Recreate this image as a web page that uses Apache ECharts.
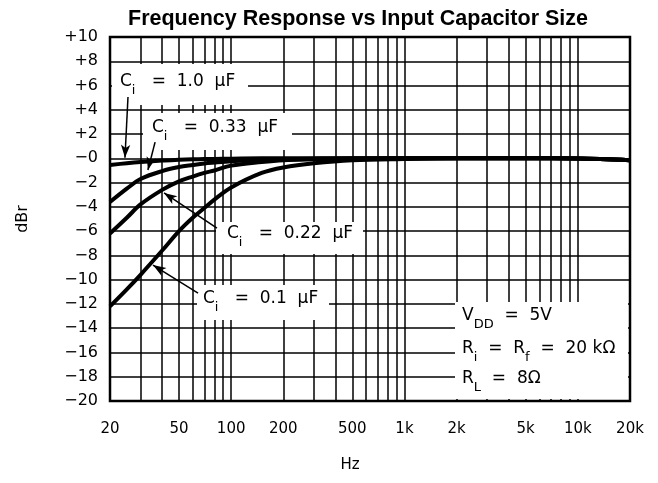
<!DOCTYPE html>
<html>
<head>
<meta charset="utf-8">
<script src="https://cdn.jsdelivr.net/npm/echarts@6/dist/echarts.min.js"></script>
<style>
  html, body { margin: 0; padding: 0; background: #fff; }
  #chart { width: 658px; height: 483px; }
</style>
</head>
<body>
<div id="chart"></div>
<script>
// Frequency points (Hz) shared by all response curves
const freqs = [20, 25, 30, 40, 50, 60, 70, 80, 100, 150, 200, 300, 500, 1000, 2000, 5000, 10000, 20000];

// Relative response (dBr) for each input capacitor value
const respC100n = [-12.2, -10.8, -9.6, -7.6, -6.0, -4.9, -4.1, -3.4, -2.4, -1.2, -0.75, -0.4, -0.15, -0.05, 0, 0, -0.02, -0.15];
const respC220n = [-6.2, -4.9, -3.8, -2.6, -1.9, -1.5, -1.2, -1.0, -0.6, -0.3, -0.15, -0.08, -0.03, 0, 0, 0, -0.02, -0.15];
const respC330n = [-3.6, -2.5, -1.7, -1.05, -0.72, -0.55, -0.42, -0.35, -0.25, -0.12, -0.07, -0.03, 0, 0, 0, 0, -0.02, -0.15];
const respC1u   = [-0.55, -0.4, -0.3, -0.18, -0.12, -0.08, -0.06, -0.05, -0.03, 0, 0, 0, 0, 0, 0, 0, -0.02, -0.15];

// Axis ticks
const xLabelValues = [20, 50, 100, 200, 500, 1000, 2000, 5000, 10000, 20000];
const xGridValues = [20, 30, 40, 50, 60, 70, 80, 90, 100, 200, 300, 400, 500, 600, 700, 800, 900,
                     1000, 2000, 3000, 4000, 5000, 6000, 7000, 8000, 9000, 10000, 20000];
const yMin = -20, yMax = 10, yStep = 2;

// Callout arrows: [tail, head] in (Hz, dBr)
const arrowC1u   = [[25.4, 5.05], [24.4, 0.05]];
const arrowC330n = [[36.4, 1.34], [33.1, -0.96]];
const arrowC220n = [[82.8, -5.76], [41.0, -2.85]];
const arrowC100n = [[64.4, -11.1], [35.4, -8.8]];

const FONT = 'DejaVu Sans';

function pairs(ys) { return freqs.map((f, i) => [f, ys[i]]); }

function fmtHz(v) {
  const r = Math.round(v);
  return r >= 1000 ? (r / 1000) + 'k' : String(r);
}
function fmtDb(v) {
  const r = Math.round(v);
  if (r > 0) return '+' + r;
  return '\u2212' + Math.abs(r);
}

function arrowLine(a) {
  return {
    silent: true,
    symbol: ['none', 'arrow'],
    symbolSize: [7, 13],
    label: { show: false },
    lineStyle: { color: '#000', width: 1.5, type: 'solid' },
    emphasis: { disabled: true },
    data: [[{ coord: a[0] }, { coord: a[1] }]]
  };
}

function curve(name, ys, arrow) {
  return {
    name: name,
    type: 'line',
    data: pairs(ys),
    smooth: 0.35,
    showSymbol: false,
    symbol: 'none',
    z: 4,
    lineStyle: { color: '#000', width: 4 },
    markLine: arrowLine(arrow),
    animation: false
  };
}

// Rich text styles for annotation labels (with subscripts)
const richSub = {
  m: { fontFamily: FONT, fontSize: 17, color: '#000', lineHeight: 31, verticalAlign: 'middle' },
  s: { fontFamily: FONT, fontSize: 13, color: '#000', lineHeight: 31, verticalAlign: 'bottom' }
};

function label(x, y, text) {
  return {
    type: 'text', x: x, y: y, z: 6, silent: true,
    style: { text: text, rich: richSub, verticalAlign: 'middle', align: 'left' }
  };
}
function mask(x, y, w, h) {
  return { type: 'rect', z: 1, silent: true, shape: { x: x, y: y, width: w, height: h }, style: { fill: '#fff' } };
}

const chart = echarts.init(document.getElementById('chart'), null, { renderer: 'canvas' });

chart.setOption({
  animation: false,
  backgroundColor: '#fff',
  title: {
    text: 'Frequency Response vs Input Capacitor Size',
    left: 353,
    textAlign: 'center',
    top: 3,
    textStyle: { fontFamily: 'Liberation Sans', fontWeight: 'bold', fontSize: 21.5, color: '#000' }
  },
  grid: {
    left: 110, right: 28, top: 37, bottom: 82,
    show: true, borderColor: '#000', borderWidth: 2.5, backgroundColor: '#fff'
  },
  xAxis: {
    type: 'log',
    logBase: 10,
    min: 20,
    max: 20000,
    name: 'Hz',
    nameLocation: 'middle',
    nameGap: 57,
    nameTextStyle: { fontFamily: FONT, fontSize: 15, color: '#000', padding: [0, 40, 0, 0] },
    axisLine: { show: false },
    axisTick: { show: false, customValues: xGridValues },
    axisLabel: {
      customValues: xLabelValues,
      formatter: fmtHz,
      margin: 21,
      fontFamily: FONT, fontSize: 15, color: '#000'
    },
    splitLine: { show: true, lineStyle: { color: '#000', width: 1.5 } },
    minorSplitLine: { show: false }
  },
  yAxis: {
    type: 'value',
    min: yMin,
    max: yMax,
    interval: yStep,
    name: 'dBr',
    nameLocation: 'middle',
    nameRotate: 90,
    nameGap: 79,
    nameTextStyle: { fontFamily: FONT, fontSize: 16, color: '#000' },
    axisLine: { show: false },
    axisTick: { show: false },
    axisLabel: { formatter: fmtDb, margin: 12, fontFamily: FONT, fontSize: 16, color: '#000' },
    splitLine: { show: true, lineStyle: { color: '#000', width: 1.5 } }
  },
  series: [
    curve('Ci = 0.1 µF', respC100n, arrowC100n),
    curve('Ci = 0.22 µF', respC220n, arrowC220n),
    curve('Ci = 0.33 µF', respC330n, arrowC330n),
    curve('Ci = 1.0 µF', respC1u, arrowC1u)
  ],
  graphic: {
    elements: [
      mask(112, 64, 136, 41),
      mask(143, 113, 149, 37),
      mask(216, 222, 147, 32),
      mask(197, 285, 132, 35),
      mask(455, 302, 173, 97),
      label(120, 82, '{m|C}{s|i}{m|   =  1.0  \u03bcF}'),
      label(152, 128, '{m|C}{s|i}{m|   =  0.33  \u03bcF}'),
      label(227, 234, '{m|C}{s|i}{m|   =  0.22  \u03bcF}'),
      label(203, 299, '{m|C}{s|i}{m|   =  0.1  \u03bcF}'),
      label(462, 316, '{m|V}{s|DD}{m|  =  5V}'),
      label(462, 349, '{m|R}{s|i}{m|  =  R}{s|f}{m|  =  20 k\u03a9}'),
      label(462, 379, '{m|R}{s|L}{m|  =  8\u03a9}')
    ]
  }
});
</script>
</body>
</html>
